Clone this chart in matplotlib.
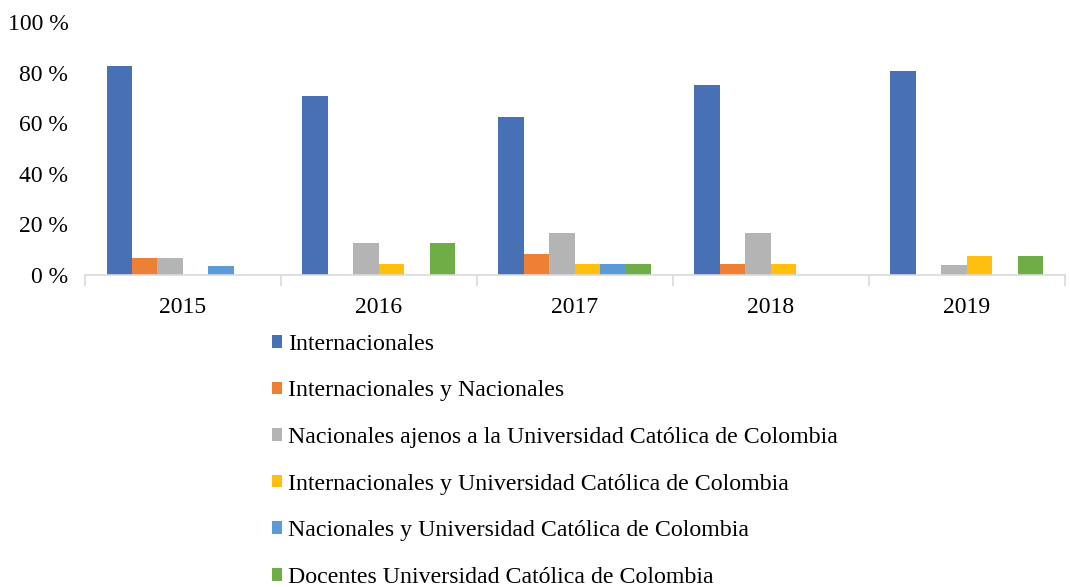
import matplotlib.pyplot as plt
import numpy as np

plt.rcParams['font.family'] = ['Liberation Serif', 'DejaVu Serif']

years = ['2015', '2016', '2017', '2018', '2019']
series_names = [
    'Internacionales',
    'Internacionales y Nacionales',
    'Nacionales ajenos a la Universidad Católica de Colombia',
    'Internacionales y Universidad Católica de Colombia',
    'Nacionales y Universidad Católica de Colombia',
    'Docentes Universidad Católica de Colombia',
]
internacionales = [82.8, 70.8, 62.5, 75.0, 80.8]
int_y_nac = [6.9, 0.0, 8.3, 4.2, 0.0]
nac_ajenos = [6.9, 12.5, 16.7, 16.7, 3.8]
int_y_ucc = [0.0, 4.2, 4.2, 4.2, 7.7]
nac_y_ucc = [3.4, 0.0, 4.2, 0.0, 0.0]
docentes_ucc = [0.0, 12.5, 4.2, 0.0, 7.7]

colors = ['#4870B5', '#EE8035', '#B4B4B4', '#FFBF0F', '#5B9BD5', '#6FAD47']
all_series = [internacionales, int_y_nac, nac_ajenos, int_y_ucc, nac_y_ucc, docentes_ucc]

fig = plt.figure(figsize=(10.7, 5.87), dpi=100)
ax = fig.add_axes([0.0794, 0.5315, 0.9156, 0.431])

x = np.arange(len(years))
w = 0.13
for i, (vals, name, c) in enumerate(zip(all_series, series_names, colors)):
    ax.bar(x + (i - 2.5) * w, vals, w, color=c, label=name)

ax.set_xlim(-0.5, len(years) - 0.5)
ax.set_ylim(0, 100)
ax.set_yticks([0, 20, 40, 60, 80, 100])
ax.set_yticklabels([f'{v} %' for v in [0, 20, 40, 60, 80, 100]])
ax.set_xticks(x)
ax.set_xticklabels(years)
ax.set_xticks(np.arange(-0.5, len(years) + 0.5, 1), minor=True)
ax.tick_params(axis='x', which='major', length=0, pad=16, labelsize=17)
ax.tick_params(axis='x', which='minor', length=8, color='#D9D9D9', width=1.2)
ax.tick_params(axis='y', length=0, pad=12, labelsize=17)
for s in ['top', 'right', 'left']:
    ax.spines[s].set_visible(False)
ax.spines['bottom'].set_color('#D9D9D9')
ax.spines['bottom'].set_linewidth(1.2)

fig.legend(loc='upper left', bbox_to_anchor=(0.245, 0.4475), ncol=1, frameon=False,
           fontsize=17.2, handlelength=0.45, handleheight=0.45, handletextpad=0.25,
           labelspacing=1.07, borderaxespad=0)

fig.savefig('out.png', dpi=100)
